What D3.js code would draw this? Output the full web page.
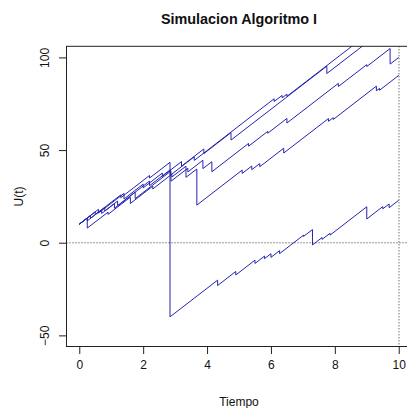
<!DOCTYPE html>
<html>
<head>
<meta charset="utf-8">
<script src="https://cdn.jsdelivr.net/npm/d3@7"></script>
<style>
  body { margin: 0; background: #fff; }
  svg { display: block; font-family: "Liberation Sans", Arial, sans-serif; }
  .path-line { fill: none; stroke: #2424b0; stroke-width: 1; }
  .ref-line { stroke: #333; stroke-width: 1; stroke-dasharray: 1,2; }
  .axis text { font-size: 12px; fill: #111; }
  .axis line, .axis path { stroke: #222; }
</style>
</head>
<body>
<svg id="chart"></svg>
<script>
// Labels
const title = 'Simulacion Algoritmo I';
const xLabel = 'Tiempo';
const yLabel = 'U(t)';

// Axis limits and ticks
const xLimits = [0, 10];
const yLimits = [-50, 100];
const xTicks = [0, 2, 4, 6, 8, 10];
const yTicks = [-50, 0, 50, 100];

// Reference lines
const hLine = 0;
const vLine = 10;

// Simulated surplus paths, [time, U(t)] vertices
const path1 = [[0,10],[0.25,13.3],[0.25,11.8],[0.7,17.8],[0.7,15.8],[1.1,21.1],[1.1,18.6],
  [2.2,33.3],[2.2,30.8],[2.85,39.4],[2.85,36.4],[3.6,46.4],[3.6,44.4],[6.1,77.7],[6.1,76.2],
  [6.35,79.5],[6.35,78.2],[6.5,80.2],[6.5,79.0],[8.54,106.1],[10,125.6]];
const path2 = [[0,10],[0.6,18],[0.6,16],[1.4,26.6],[1.4,23.6],[2.0,31.6],[2.0,29.6],
  [2.6,37.6],[2.6,35.8],[3.2,43.8],[3.2,41.3],[3.9,50.6],[3.9,48.1],[4.75,59.4],[4.75,55.4],
  [7.75,95.3],[7.75,91.3],[10,121.2]];
const path3 = [[0,10],[0.35,14.7],[0.35,13.2],[0.8,19.1],[0.8,17.1],[1.2,22.5],[1.2,20],
  [1.75,27.3],[1.75,23.8],[2.87,38.7],[2.87,33.2],[3.4,40.2],[3.4,38.2],[3.87,44.5],[3.87,40],
  [4.15,43.7],[4.15,38.3],[5.3,53.6],[5.3,52.1],[5.9,60.1],[5.9,59.1],[6.5,67.1],[6.5,64.6],
  [8.11,86],[8.11,84.3],[9.0,96.1],[9.0,95.1],[9.73,104.8],[9.73,96.4],[10,100]];
const path4 = [[0,10],[0.25,13.3],[0.25,7.9],[0.9,16.5],[0.9,15.3],[1.6,24.6],[1.6,21.2],
  [2.3,30.5],[2.3,29],[2.9,37],[2.9,35.5],[3.34,41.3],[3.34,35.3],[3.68,39.8],[3.68,20.3],
  [5.1,39.2],[5.1,37.4],[5.4,41.4],[5.4,39.4],[5.65,42.7],[5.65,41],[6.4,51],[6.4,48.4],
  [7.8,67],[7.8,65.5],[7.95,67.5],[7.95,66.5],[9.3,84.5],[9.3,82],[9.4,83.3],[9.4,82.3],[10,90.3]];
const path5 = [[0,10],[0.5,16.7],[0.5,15.2],[1.3,25.8],[1.3,24.3],[2.2,36.3],[2.2,34.9],
  [2.84,43.4],[2.84,-40],[4.33,-20.2],[4.33,-23.1],[4.9,-15.5],[4.9,-17.4],[5.5,-9.4],[5.5,-11.2],
  [5.8,-7.2],[5.8,-8.6],[6.0,-5.9],[6.0,-7.9],[6.27,-4.3],[6.27,-5.9],[7.02,4.1],[7.02,3.4],
  [7.3,7.1],[7.3,-1.2],[7.6,2.8],[7.6,1.8],[7.85,5.1],[7.85,4.1],[9.0,19.4],[9.0,12.8],
  [9.5,19.5],[9.5,18.3],[9.7,20.9],[9.7,18.9],[10,22.9]];

const paths = [path1, path2, path3, path4, path5];

class SurplusPlot {

  constructor(_config, data) {
    this.config = {
      parentElement: _config.parentElement,
      containerWidth: _config.containerWidth || 407,
      containerHeight: _config.containerHeight || 408,
      // R-style plot region; right edge falls just outside the picture
      margin: _config.margin || {top: 46.3, right: -4.5, bottom: 61.5, left: 66.5}
    }
    this.data = data;
    this.initVis();
  }

  initVis() {
    let vis = this;

    vis.width = vis.config.containerWidth - vis.config.margin.left - vis.config.margin.right;
    vis.height = vis.config.containerHeight - vis.config.margin.top - vis.config.margin.bottom;

    // R pads the limits by 4% on each side
    const xPad = (xLimits[1] - xLimits[0]) * 0.04;
    const yPad = (yLimits[1] - yLimits[0]) * 0.04;

    vis.xScale = d3.scaleLinear()
        .domain([xLimits[0] - xPad, xLimits[1] + xPad])
        .range([0, vis.width]);

    vis.yScale = d3.scaleLinear()
        .domain([yLimits[0] - yPad, yLimits[1] + yPad])
        .range([vis.height, 0]);

    vis.svg = d3.select(vis.config.parentElement)
        .attr('width', vis.config.containerWidth)
        .attr('height', vis.config.containerHeight);

    vis.chartArea = vis.svg.append('g')
        .attr('transform', `translate(${vis.config.margin.left},${vis.config.margin.top})`);

    vis.chartArea.append('clipPath')
        .attr('id', 'plot-clip')
      .append('rect')
        .attr('width', vis.width)
        .attr('height', vis.height);

    vis.chart = vis.chartArea.append('g')
        .attr('clip-path', 'url(#plot-clip)');

    vis.xAxis = d3.axisBottom(vis.xScale)
        .tickValues(xTicks)
        .tickSize(7.5)
        .tickPadding(6)
        .tickFormat(d3.format('d'));

    vis.yAxis = d3.axisLeft(vis.yScale)
        .tickValues(yTicks)
        .tickSize(7.5)
        .tickFormat(d3.format('d'));

    vis.renderVis();
  }

  renderVis() {
    let vis = this;

    const line = d3.line()
        .x(d => vis.xScale(d[0]))
        .y(d => vis.yScale(d[1]));

    vis.chart.selectAll('.path-line')
        .data(vis.data)
      .join('path')
        .attr('class', 'path-line')
        .attr('d', line);

    // Dotted reference lines (abline h = 0, v = 10)
    vis.chart.append('line')
        .attr('class', 'ref-line')
        .attr('x1', 0)
        .attr('x2', vis.width)
        .attr('y1', Math.round(vis.yScale(hLine)) + 0.5)
        .attr('y2', Math.round(vis.yScale(hLine)) + 0.5);

    vis.chart.append('line')
        .attr('class', 'ref-line')
        .attr('x1', Math.round(vis.xScale(vLine)) + 0.5)
        .attr('x2', Math.round(vis.xScale(vLine)) + 0.5)
        .attr('y1', 0)
        .attr('y2', vis.height);

    // Axes: drop the domain path, the box below draws the frame
    const xAxisG = vis.chartArea.append('g')
        .attr('class', 'axis x-axis')
        .attr('transform', `translate(0,${vis.height})`)
        .call(vis.xAxis);
    xAxisG.select('.domain').remove();
    xAxisG.selectAll('text').attr('font-size', 12).attr('fill', '#111');

    const yAxisG = vis.chartArea.append('g')
        .attr('class', 'axis y-axis')
        .call(vis.yAxis);
    yAxisG.select('.domain').remove();
    yAxisG.selectAll('text')
        .attr('font-size', 12)
        .attr('fill', '#111')
        .attr('text-anchor', 'middle')
        .attr('dy', '0.35em')
        .attr('x', 0)
        .attr('y', 0)
        .attr('transform', 'translate(-21.5,0) rotate(-90)');

    // Plot box
    vis.chartArea.append('rect')
        .attr('width', vis.width)
        .attr('height', vis.height)
        .attr('fill', 'none')
        .attr('stroke', '#222')
        .attr('stroke-width', 1);

    // Title and axis labels
    const xMid = vis.config.margin.left + vis.width / 2;
    vis.svg.append('text')
        .attr('x', xMid)
        .attr('y', 23.5)
        .attr('text-anchor', 'middle')
        .attr('font-size', 14.4)
        .attr('font-weight', 'bold')
        .attr('fill', '#111')
        .text(title);

    vis.svg.append('text')
        .attr('x', xMid)
        .attr('y', 405.5)
        .attr('text-anchor', 'middle')
        .attr('font-size', 12)
        .attr('fill', '#111')
        .text(xLabel);

    vis.svg.append('text')
        .attr('transform', `translate(22.5,${vis.config.margin.top + vis.height / 2}) rotate(-90)`)
        .attr('text-anchor', 'middle')
        .attr('font-size', 12)
        .attr('fill', '#111')
        .text(yLabel);
  }
}

new SurplusPlot({parentElement: '#chart'}, paths);
</script>
</body>
</html>
